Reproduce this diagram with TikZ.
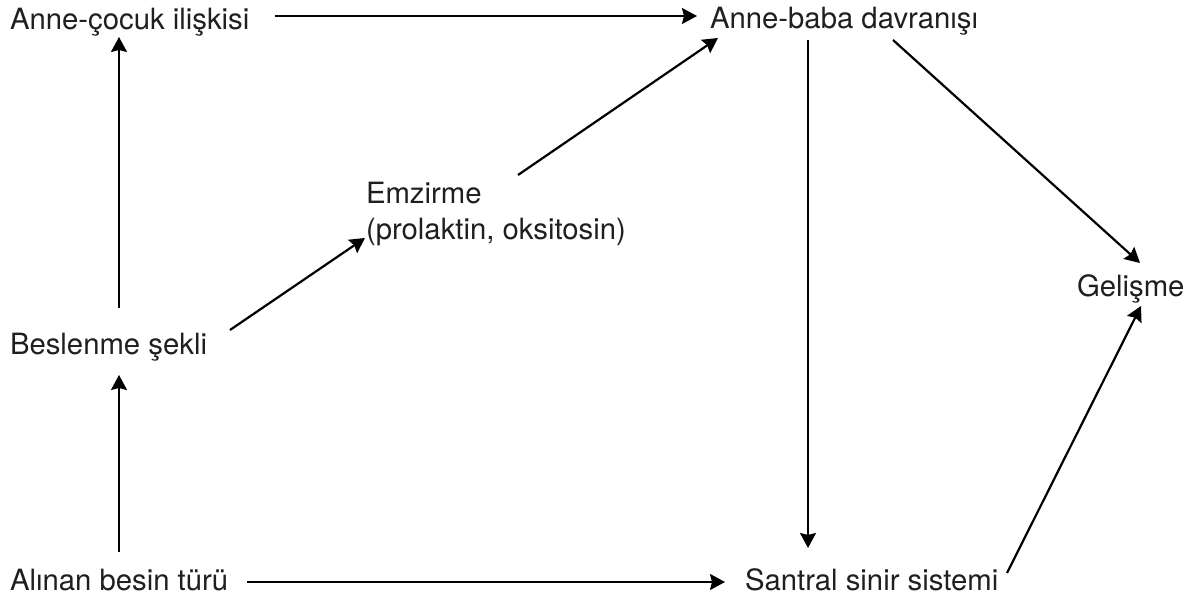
\documentclass[tikz,border=0pt]{standalone}
\usepackage{fontspec}
\setmainfont{TeX Gyre Heros}
\usetikzlibrary{arrows.meta,calc}
\begin{document}
\begin{tikzpicture}[x=1pt,y=-1pt,
  lbl/.style={inner sep=0pt,outer sep=0pt,anchor=base west,text=black!88,font=\fontsize{29.3}{36}\selectfont},
  arr/.style={line width=2.2pt,-{Stealth[length=15pt,width=16pt,inset=2pt]}}]
\useasboundingbox[fill=white] (0,0) rectangle (1195,596);
\node[lbl] (ac) at (10,30) {Anne-çocuk ilişkisi};
\node[lbl] (ab) at (710,29) {Anne-baba davranışı};
\node[lbl] (em) at (366,204) {\begin{tabular}[t]{@{}l@{}}Emzirme\\(prolaktin, oksitosin)\end{tabular}};
\node[lbl] (bs) at (10,355) {Beslenme şekli};
\node[lbl] (ge) at (1077,297) {Gelişme};
\node[lbl] (al) at (10,590) {Alınan besin türü};
\node[lbl] (ss) at (745,590) {Santral sinir sistemi};
\draw[arr] ($(ac.base west)+(265,-14)$) -- ($(ab.base west)+(-13,-13)$);
\draw[arr] ($(bs.base west)+(109,-47)$) -- ($(ac.base west)+(109,7)$);
\draw[arr] ($(al.base west)+(109,-38)$) -- ($(bs.base west)+(109,20)$);
\draw[arr] ($(bs.base west)+(220,-25)$) -- ($(em.base west)+(-1,34)$);
\draw[arr] ($(em.base west)+(152,-29)$) -- ($(ab.base west)+(8,9)$);
\draw[arr] ($(ab.base west)+(98,11)$) -- ($(ss.base west)+(63,-42)$);
\draw[arr] ($(ab.base west)+(183,11)$) -- ($(ge.base west)+(63,-34)$);
\draw[arr] ($(ss.base west)+(262,-17)$) -- ($(ge.base west)+(64,9)$);
\draw[arr] ($(al.base west)+(237,-8)$) -- ($(ss.base west)+(-20,-8)$);
\end{tikzpicture}
\end{document}
